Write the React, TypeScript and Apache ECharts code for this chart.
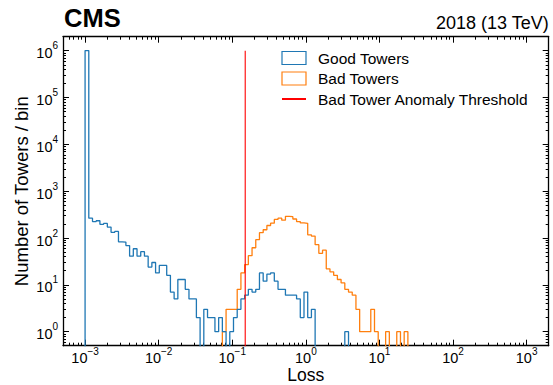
import React, { useEffect, useRef } from 'react';
import * as echarts from 'echarts';

// ---------- data ----------
const N_BINS = 119;
const LOG_LO = -3;
const LOG_HI = 3;
const binEdges: number[] = Array.from({ length: N_BINS + 1 }, (_, i) => Math.pow(10, LOG_LO + ((LOG_HI - LOG_LO) * i) / N_BINS));

const goodTowerCounts: number[] = [
  1010000, 265, 224, 234, 196, 205, 171, 132, 138, 83,
  82, 69, 41, 59, 41, 51, 41, 24, 30, 18,
  26, 26, 16, 7, 5, 13, 13, 8, 5, 5,
  2, 0, 3, 2, 2, 1, 2, 1, 0, 1,
  2, 3, 5, 6, 8, 7, 8, 18, 12, 17,
  18, 12, 8, 8, 6, 6, 6, 5, 2, 7,
  2, 3, 0, 0, 0, 0, 0, 0, 0, 0,
  1, 0, 0, 0, 0, 0, 0, 0, 0, 0,
  0, 0, 0, 0, 0, 0, 0, 0, 0, 0,
  0, 0, 0, 0, 0, 0, 0, 0, 0, 0,
  0, 0, 0, 0, 0, 0, 0, 0, 0, 0,
  0, 0, 0, 0, 0, 0, 0, 0, 0,
];

const badTowerCounts: number[] = [
  0, 0, 0, 0, 0, 0, 0, 0, 0, 0,
  0, 0, 0, 0, 0, 0, 0, 0, 0, 0,
  0, 0, 0, 0, 0, 0, 0, 0, 0, 0,
  0, 0, 0, 0, 0, 0, 0, 1, 3, 3,
  3, 8, 18, 27, 42, 62, 92, 130, 150, 185,
  208, 250, 265, 240, 290, 285, 255, 225, 210, 206,
  117, 110, 72, 47, 55, 22, 19, 16, 13, 11,
  8, 7, 6, 3, 1, 1, 1, 3, 1, 0,
  0, 1, 0, 0, 1, 0, 1, 0, 0, 0,
  0, 0, 0, 0, 0, 0, 0, 0, 0, 0,
  0, 0, 0, 0, 0, 0, 0, 0, 0, 0,
  0, 0, 0, 0, 0, 0, 0, 0, 0,
];

const anomalyThreshold = 0.15;
const thresholdLineTop = 1e6;

const xMajorExponents = [-3, -2, -1, 0, 1, 2, 3];
const yMajorExponents = [0, 1, 2, 3, 4, 5, 6];

const X_MIN = Math.pow(10, -3.3);
const X_MAX = Math.pow(10, 3.3);
const Y_MIN = Math.pow(10, -0.3);
const Y_MAX = Math.pow(10, 6.3);

// ---------- style ----------
const FONT = '"Liberation Sans", Arial, Helvetica, sans-serif';
const BLUE = '#1f77b4';
const ORANGE = '#ff7f0e';
const RED = '#ff0000';
const FLOOR = 1e-3; // below the axis: empty bins fall out of the plot like in a log histogram

function stepPoints(counts: number[]): number[][] {
  const pts: number[][] = [[binEdges[0], FLOOR]];
  counts.forEach((c, i) => {
    const y = c > 0 ? c : FLOOR;
    pts.push([binEdges[i], y], [binEdges[i + 1], y]);
  });
  pts.push([binEdges[counts.length], FLOOR]);
  return pts;
}

function minorValues(lo: number, hi: number, expFrom: number, expTo: number): number[] {
  const out: number[] = [];
  for (let e = expFrom; e <= expTo; e++) {
    for (let k = 2; k <= 9; k++) {
      const v = k * Math.pow(10, e);
      if (v > lo * 1.001 && v < hi * 0.999) out.push(v);
    }
  }
  return out;
}

function powLabel(value: number): string {
  const e = Math.round(Math.log10(value));
  const s = e < 0 ? '\u2212' + Math.abs(e) : String(e);
  return '{b|10}{s|' + s + '}';
}

const yLabelRich = {
  b: { fontFamily: FONT, fontSize: 14.5, color: '#000', lineHeight: 20, verticalAlign: 'bottom' },
  s: { fontFamily: FONT, fontSize: 10, color: '#000', lineHeight: 10, verticalAlign: 'top' },
};
const xLabelRich = {
  b: { fontFamily: FONT, fontSize: 14.5, color: '#000', lineHeight: 19, verticalAlign: 'bottom' },
  s: { fontFamily: FONT, fontSize: 10, color: '#000', lineHeight: 10, verticalAlign: 'top' },
};

export default function App() {
  const ref = useRef<HTMLDivElement>(null);

  useEffect(() => {
    document.body.style.margin = '0';
    if (!ref.current) return;
    const chart = echarts.init(ref.current, undefined, { renderer: 'svg' });

    const xMajor = xMajorExponents.map((e) => Math.pow(10, e));
    const yMajor = yMajorExponents.map((e) => Math.pow(10, e));
    const xMinor = minorValues(X_MIN, X_MAX, -4, 3);
    const yMinor = minorValues(Y_MIN, Y_MAX, -1, 6);

    const axisLine = { show: true, lineStyle: { color: '#000', width: 1.3 } };
    const noLine = { show: false };
    const majorTick = (vals: number[]) => ({ show: true, inside: true, length: 6, customValues: vals, lineStyle: { color: '#000', width: 1 } });
    const minorTickCfg = (vals: number[]) => ({ show: true, inside: true, length: 3, customValues: vals, lineStyle: { color: '#000', width: 1 } });

    const baseX = { type: 'log', min: X_MIN, max: X_MAX, splitLine: { show: false }, gridIndex: 0 };
    const baseY = { type: 'log', min: Y_MIN, max: Y_MAX, splitLine: { show: false }, gridIndex: 0 };

    const option: any = {
      animation: false,
      backgroundColor: '#fff',
      title: [
        { text: 'CMS', left: 64, top: 5, padding: 0, textStyle: { fontFamily: FONT, fontWeight: 'bold', fontSize: 25.5, color: '#000' } },
        { text: '2018 (13 TeV)', right: 4, top: 14, padding: 0, textStyle: { fontFamily: FONT, fontWeight: 'normal', fontSize: 18, color: '#000' } },
      ],
      legend: {
        orient: 'vertical',
        left: 281,
        top: 50,
        padding: 0,
        itemWidth: 24,
        itemHeight: 13,
        itemGap: 4.5,
        selectedMode: false,
        textStyle: { fontFamily: FONT, fontSize: 15.5, color: '#000', padding: [0, 0, 0, 7] },
        data: [
          { name: 'Good Towers', icon: 'rect', itemStyle: { color: 'rgba(0,0,0,0)', borderColor: BLUE, borderWidth: 1.2 } },
          { name: 'Bad Towers', icon: 'rect', itemStyle: { color: 'rgba(0,0,0,0)', borderColor: ORANGE, borderWidth: 1.2 } },
          { name: 'Bad Tower Anomaly Threshold', itemStyle: { opacity: 0 } },
        ],
      },
      grid: { left: 63, right: 4.3, top: 36.7, bottom: 39.3, containLabel: false, outerBoundsMode: 'none' },
      xAxis: [
        {
          ...baseX,
          position: 'bottom',
          axisLine,
          axisTick: majorTick(xMajor),
          axisLabel: { show: true, customValues: xMajor, margin: 0.3, formatter: powLabel, rich: xLabelRich },
          name: 'Loss',
          nameLocation: 'middle',
          nameGap: 21.6,
          nameMoveOverlap: false,
          nameTextStyle: { fontFamily: FONT, fontSize: 17.5, lineHeight: 16, color: '#000', verticalAlign: 'top' },
        },
        { ...baseX, position: 'bottom', axisLine: noLine, axisTick: minorTickCfg(xMinor), axisLabel: { show: false } },
        { ...baseX, position: 'top', axisLine, axisTick: majorTick(xMajor), axisLabel: { show: false } },
        { ...baseX, position: 'top', axisLine: noLine, axisTick: minorTickCfg(xMinor), axisLabel: { show: false } },
      ],
      yAxis: [
        {
          ...baseY,
          position: 'left',
          axisLine,
          axisTick: majorTick(yMajor),
          axisLabel: { show: true, customValues: yMajor, margin: 5, formatter: powLabel, rich: yLabelRich },
          name: 'Number of Towers / bin',
          nameLocation: 'middle',
          nameGap: 32.5,
          nameMoveOverlap: false,
          nameTextStyle: { fontFamily: FONT, fontSize: 18.5, color: '#000' },
        },
        { ...baseY, position: 'left', axisLine: noLine, axisTick: minorTickCfg(yMinor), axisLabel: { show: false } },
        { ...baseY, position: 'right', axisLine, axisTick: majorTick(yMajor), axisLabel: { show: false } },
        { ...baseY, position: 'right', axisLine: noLine, axisTick: minorTickCfg(yMinor), axisLabel: { show: false } },
      ],
      series: [
        {
          name: 'Good Towers',
          type: 'line',
          xAxisIndex: 0,
          yAxisIndex: 0,
          data: stepPoints(goodTowerCounts),
          showSymbol: false,
          symbol: 'none',
          clip: true,
          color: BLUE,
          lineStyle: { color: BLUE, width: 1.3 },
          z: 3,
        },
        {
          name: 'Bad Towers',
          type: 'line',
          xAxisIndex: 0,
          yAxisIndex: 0,
          data: stepPoints(badTowerCounts),
          showSymbol: false,
          symbol: 'none',
          clip: true,
          color: ORANGE,
          lineStyle: { color: ORANGE, width: 1.3 },
          z: 2,
        },
        {
          name: 'Bad Tower Anomaly Threshold',
          type: 'line',
          xAxisIndex: 0,
          yAxisIndex: 0,
          data: [[anomalyThreshold, FLOOR], [anomalyThreshold, thresholdLineTop]],
          showSymbol: false,
          symbol: 'none',
          clip: true,
          color: RED,
          lineStyle: { color: RED, width: 1.1 },
          z: 4,
        },
      ],
    };

    chart.setOption(option);
    return () => chart.dispose();
  }, []);

  return <div ref={ref} style={{ position: 'fixed', left: 0, top: 0, width: 553, height: 385 }} />;
}
